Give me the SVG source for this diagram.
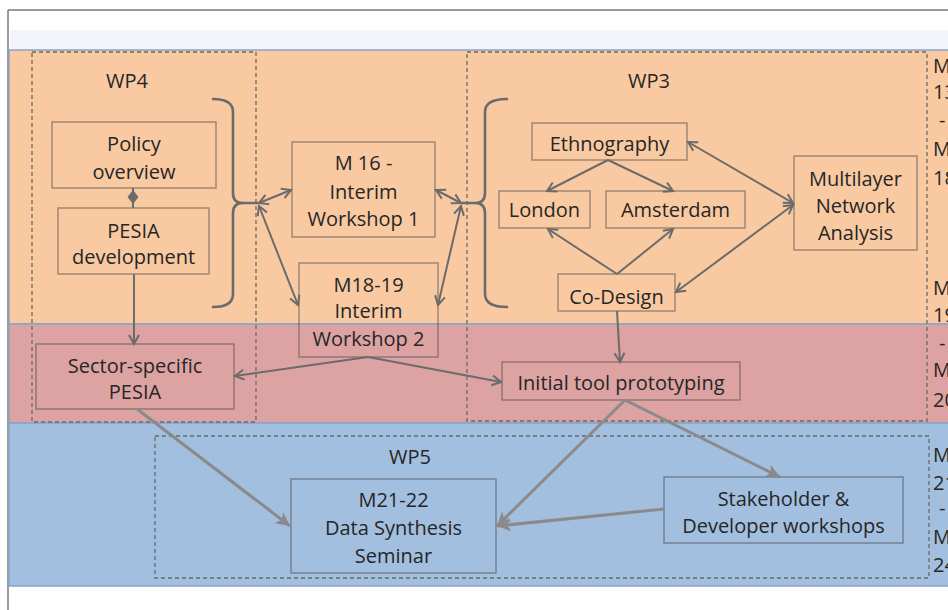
<svg xmlns="http://www.w3.org/2000/svg" width="948" height="610" viewBox="0 0 948 610">
<style>
  text { font-family: "Open Sans", "Liberation Sans", sans-serif; font-size: 20px; fill: #262626; text-anchor: middle; }
  .side { text-anchor: start; }
  .node { fill: none; stroke: #4a4a4a; stroke-opacity: 0.55; stroke-width: 1.4; }
  .wp { fill: none; stroke: #6a6a6a; stroke-width: 1.3; stroke-dasharray: 4 3; }
  .band { stroke: #8aa4c4; stroke-width: 1.5; }
  .c { fill: none; stroke: #6b6b6b; stroke-width: 2; }
  .cl { fill: none; stroke: #8a8a8a; stroke-width: 3; }
  .br { fill: none; stroke: #6b6b6b; stroke-width: 2.6; stroke-linecap: round; }
</style>
<defs>
  <marker id="a" markerUnits="userSpaceOnUse" markerWidth="14" markerHeight="14" refX="10" refY="6" orient="auto-start-reverse" viewBox="0 0 14 12">
    <path d="M1,1 L10,6 L1,11" fill="none" stroke="#6b6b6b" stroke-width="2"/>
  </marker>
  <marker id="b" markerUnits="userSpaceOnUse" markerWidth="16" markerHeight="14" refX="12" refY="6" orient="auto" viewBox="0 0 14 12">
    <path d="M0,0 L12,6 L0,12 L3,6 z" fill="#8a8a8a"/>
  </marker>
</defs>

<!-- frame and bands -->
<rect x="0" y="0" width="948" height="610" fill="#ffffff"/>
<rect x="10" y="30" width="938" height="20" fill="#f2f5f9"/>
<line x1="8" y1="10" x2="948" y2="10" stroke="#7a7a7a" stroke-width="1.5"/>
<line x1="8" y1="10" x2="8" y2="610" stroke="#7a7a7a" stroke-width="1.5"/>
<rect class="band" x="9" y="50" width="945" height="274" fill="#f9caa2"/>
<rect class="band" x="9" y="324" width="945" height="99" fill="#dda3a3"/>
<rect class="band" x="9" y="423" width="945" height="163" fill="#a3bfdf"/>

<!-- work package boxes -->
<g id="wp4">
  <rect class="wp" x="32" y="52" width="224" height="370"/>
  <text x="127" y="88">WP4</text>
</g>
<g id="wp3">
  <rect class="wp" x="467" y="52" width="460" height="369"/>
  <text x="649" y="88">WP3</text>
</g>
<g id="wp5">
  <rect class="wp" x="155" y="436" width="774" height="142"/>
  <text x="410" y="464">WP5</text>
</g>

<!-- timeline labels -->
<g id="timeline">
  <text class="side" x="933" y="73">M</text>
  <text class="side" x="933" y="99">13</text>
  <text class="side" x="939" y="127">-</text>
  <text class="side" x="933" y="156">M</text>
  <text class="side" x="933" y="185">18</text>
  <text class="side" x="933" y="295">M</text>
  <text class="side" x="933" y="322">19</text>
  <text class="side" x="939" y="350">-</text>
  <text class="side" x="933" y="377">M</text>
  <text class="side" x="933" y="407">20</text>
  <text class="side" x="933" y="462">M</text>
  <text class="side" x="933" y="490">21</text>
  <text class="side" x="939" y="515">-</text>
  <text class="side" x="933" y="544">M</text>
  <text class="side" x="933" y="572">24</text>
</g>

<!-- nodes -->
<g id="policy-overview">
  <rect class="node" x="52" y="122" width="164" height="66"/>
  <text x="134" y="151">Policy</text>
  <text x="134" y="179">overview</text>
</g>
<g id="pesia-development">
  <rect class="node" x="58" y="208" width="151" height="66"/>
  <text x="133.5" y="238">PESIA</text>
  <text x="133.5" y="264">development</text>
</g>
<g id="sector-specific-pesia">
  <rect class="node" x="36" y="344" width="198" height="65"/>
  <text x="135" y="373">Sector-specific</text>
  <text x="135" y="399">PESIA</text>
</g>
<g id="interim-workshop-1">
  <rect class="node" x="292" y="142" width="143" height="95"/>
  <text x="363.5" y="170">M 16 -</text>
  <text x="363.5" y="199">Interim</text>
  <text x="363.5" y="226">Workshop 1</text>
</g>
<g id="interim-workshop-2">
  <rect class="node" x="299" y="263" width="139" height="94"/>
  <text x="368.5" y="292">M18-19</text>
  <text x="368.5" y="318">Interim</text>
  <text x="368.5" y="346">Workshop 2</text>
</g>
<g id="ethnography">
  <rect class="node" x="532" y="123" width="155" height="37"/>
  <text x="609.5" y="151">Ethnography</text>
</g>
<g id="london">
  <rect class="node" x="499" y="191" width="91" height="37"/>
  <text x="544.5" y="217">London</text>
</g>
<g id="amsterdam">
  <rect class="node" x="606" y="191" width="139" height="37"/>
  <text x="675.5" y="217">Amsterdam</text>
</g>
<g id="multilayer">
  <rect class="node" x="794" y="156" width="123" height="94"/>
  <text x="855.5" y="186">Multilayer</text>
  <text x="855.5" y="213">Network</text>
  <text x="855.5" y="240">Analysis</text>
</g>
<g id="co-design">
  <rect class="node" x="558" y="274" width="117" height="37"/>
  <text x="616.5" y="304">Co-Design</text>
</g>
<g id="initial-tool">
  <rect class="node" x="502" y="362" width="238" height="38"/>
  <text x="621" y="390">Initial tool prototyping</text>
</g>
<g id="data-synthesis">
  <rect class="node" x="291" y="479" width="205" height="94"/>
  <text x="393.5" y="507">M21-22</text>
  <text x="393.5" y="535">Data Synthesis</text>
  <text x="393.5" y="563">Seminar</text>
</g>
<g id="stakeholder">
  <rect class="node" x="664" y="477" width="239" height="66"/>
  <text x="783.5" y="506">Stakeholder &amp;</text>
  <text x="783.5" y="533">Developer workshops</text>
</g>

<!-- connectors -->
<g id="connectors">
  <path class="br" d="M213,99 Q233,99 233,112 L233,193 Q233,203 243,203 L258,203 M243,203 Q233,203 233,213 L233,294 Q233,307 213,307"/>
  <path class="br" d="M507,99 Q485,99 485,112 L485,193 Q485,203 475,203 L462,203 M475,203 Q485,203 485,213 L485,294 Q485,307 507,307"/>
  <line class="c" x1="133" y1="188" x2="133" y2="208"/>
  <path d="M133,190 L138.5,197 L133,204 L127.5,197 z" fill="#6b6b6b"/>
  <line class="c" x1="259" y1="203" x2="291" y2="190" marker-start="url(#a)" marker-end="url(#a)"/>
  <line class="c" x1="259" y1="206" x2="298" y2="305" marker-start="url(#a)" marker-end="url(#a)"/>
  <line class="c" x1="461" y1="203" x2="436" y2="190" marker-start="url(#a)" marker-end="url(#a)"/>
  <line class="c" x1="461" y1="206" x2="438" y2="305" marker-start="url(#a)" marker-end="url(#a)"/>
  <line class="c" x1="608" y1="160" x2="547" y2="191" marker-end="url(#a)"/>
  <line class="c" x1="608" y1="160" x2="673" y2="191" marker-end="url(#a)"/>
  <line class="c" x1="688" y1="142" x2="793" y2="203" marker-start="url(#a)" marker-end="url(#a)"/>
  <line class="c" x1="617" y1="274" x2="548" y2="229" marker-end="url(#a)"/>
  <line class="c" x1="617" y1="274" x2="673" y2="229" marker-end="url(#a)"/>
  <line class="c" x1="676" y1="292" x2="793" y2="205" marker-start="url(#a)" marker-end="url(#a)"/>
  <line class="c" x1="617" y1="311" x2="620" y2="362" marker-end="url(#a)"/>
  <line class="c" x1="134" y1="274" x2="134" y2="344" marker-end="url(#a)"/>
  <line class="c" x1="368" y1="357" x2="501" y2="382" marker-end="url(#a)"/>
  <line class="c" x1="368" y1="357" x2="235" y2="376" marker-end="url(#a)"/>
  <line class="cl" x1="137" y1="409" x2="290" y2="526" marker-end="url(#b)"/>
  <line class="cl" x1="625" y1="400" x2="497" y2="526" marker-end="url(#b)"/>
  <line class="cl" x1="625" y1="400" x2="780" y2="477" marker-end="url(#b)"/>
  <line class="cl" x1="664" y1="509" x2="497" y2="526" marker-end="url(#b)"/>
</g>
</svg>
